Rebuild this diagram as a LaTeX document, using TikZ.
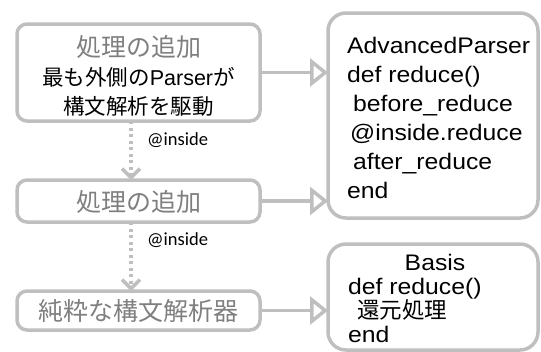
\documentclass[tikz,border=0pt]{standalone}
\usepackage{fontspec}
\setmainfont{Liberation Sans}
\newfontfamily\codefont[FakeStretch=1.1]{Liberation Sans}
\newfontfamily\cjk{Noto Sans CJK JP}
\newfontfamily\labfont{Carlito}
\usetikzlibrary{arrows.meta}
\definecolor{bordergray}{RGB}{191,191,191}
\definecolor{textgray}{RGB}{127,127,127}
\begin{document}
\begin{tikzpicture}[x=1pt,y=-1pt,
 lbox/.style={draw=bordergray, line width=3.5pt, rounded corners=10pt, minimum width=243pt, inner sep=0pt, outer sep=0pt},
 rbox/.style={draw=bordergray, line width=3.5pt, rounded corners=18pt, minimum width=210pt, inner sep=0pt, outer sep=0pt},
 gtext/.style={font=\cjk\fontsize{25}{30}\selectfont, text=textgray, inner sep=0pt},
 btext/.style={font=\fontsize{21.5}{26}\selectfont, inner sep=0pt},
 ctext/.style={font=\codefont\fontsize{22.5}{28}\selectfont, anchor=base west, inner sep=0pt},
 conn/.style={draw=bordergray, line width=3.5pt, -{Triangle[open, length=18pt, width=28pt]}},
 insidearrow/.style={draw=bordergray, line width=3.5pt, dash pattern=on 3pt off 3.5pt, -{Straight Barb[length=9pt, width=18pt]}},
 labtext/.style={font=\labfont\fontsize{18.5}{22}\selectfont, anchor=west, inner sep=0pt}
]
\useasboundingbox (0,0) rectangle (541,351);
\clip (0,0) rectangle (541,351);
% left boxes
\node[lbox, minimum height=97pt] (b1) at (138.5,72.5) {};
\node[lbox, minimum height=42pt] (b2) at (138.5,201) {};
\node[lbox, minimum height=39pt] (b3) at (138.5,310.5) {};
\node[gtext] (b1a) at (138.5,46.5) {処理の追加};
\node[btext] (b1b) at (138.5,77.5) {{\cjk 最も外側の}Parser{\cjk が}};
\node[btext] (b1c) at (138.5,106) {\cjk 構文解析を駆動};
\node[gtext] (b2a) at (138.5,202) {処理の追加};
\node[gtext] (b3a) at (138.5,311.5) {純粋な構文解析器};
% right boxes
\node[rbox, minimum height=205pt] (r1) at (433,115.5) {};
\node[rbox, minimum height=106pt] (r2) at (433,297) {};
\node[ctext] (r1a) at (347,53) {AdvancedParser};
\node[ctext] (r1b) at (347,82) {def reduce()};
\node[ctext] (r1c) at (353,111) {before\_reduce};
\node[ctext] (r1d) at (350,140) {@inside.reduce};
\node[ctext] (r1e) at (353,169) {after\_reduce};
\node[ctext] (r1f) at (347,198) {end};
\node[ctext, anchor=base] (r2a) at (435,270) {Basis};
\node[ctext] (r2b) at (348,294) {def reduce()};
\node[ctext] (r2c) at (357,318) {\cjk 還元処理};
\node[ctext] (r2d) at (348,342) {end};
% connectors
\draw[conn] (b1.east) -- (b1.east -| r1.west);
\draw[conn] (b2.east) -- (b2.east -| r1.west);
\draw[conn] (b3.east) -- (b3.east -| r2.west);
\coordinate (vx) at (131,0);
\draw[insidearrow] (b1.south -| vx) -- (b2.north -| vx);
\draw[insidearrow] (b2.south -| vx) -- (b3.north -| vx);
\node[labtext] (l1) at (147,140) {@inside};
\node[labtext] (l2) at (147,240) {@inside};
\end{tikzpicture}
\end{document}
